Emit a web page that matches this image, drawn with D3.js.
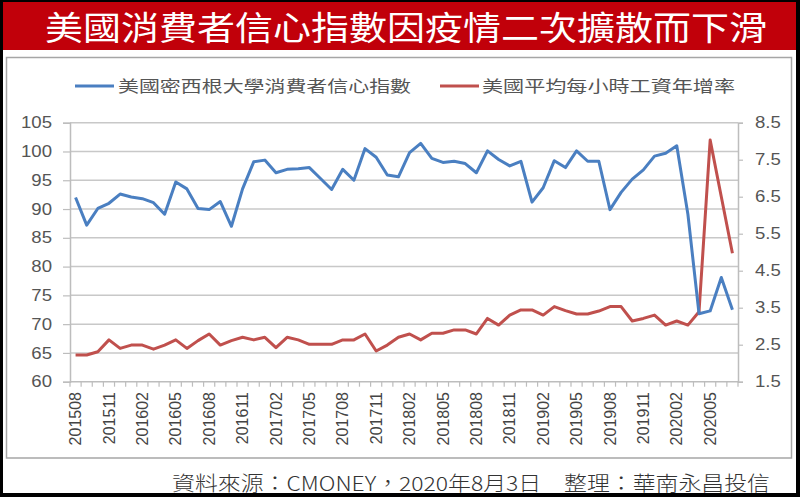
<!DOCTYPE html>
<html><head><meta charset="utf-8">
<script src="https://cdn.jsdelivr.net/npm/d3@7"></script>
<style>
html,body{margin:0;padding:0;background:#fff;}
svg{display:block;}
</style></head>
<body>
<svg id="chart" width="800" height="497"></svg>
<script>
const titleText = "美國消費者信心指數因疫情二次擴散而下滑";
const footerText = "資料來源：CMONEY，2020年8月3日　整理：華南永昌投信";
const seriesNames = ["美國密西根大學消費者信心指數", "美國平均每小時工資年增率"];
const months = [
 "201508","201509","201510","201511","201512",
 "201601","201602","201603","201604","201605","201606","201607","201608","201609","201610","201611","201612",
 "201701","201702","201703","201704","201705","201706","201707","201708","201709","201710","201711","201712",
 "201801","201802","201803","201804","201805","201806","201807","201808","201809","201810","201811","201812",
 "201901","201902","201903","201904","201905","201906","201907","201908","201909","201910","201911","201912",
 "202001","202002","202003","202004","202005","202006","202007"];
const xLabels = ["201508","201511","201602","201605","201608","201611","201702","201705","201708","201711",
 "201802","201805","201808","201811","201902","201905","201908","201911","202002","202005"];
const sentiment = [92.0,87.2,90.1,91.0,92.6,92.1,91.8,91.1,89.1,94.7,93.5,90.1,89.9,91.3,87.0,93.5,98.2,
 98.5,96.3,96.9,97.0,97.2,95.3,93.4,96.9,95.0,100.5,99.0,95.9,95.6,99.8,101.4,98.8,98.1,98.3,97.9,96.3,
 100.1,98.6,97.5,98.3,91.2,93.7,98.4,97.2,100.1,98.3,98.3,89.9,92.9,95.2,96.8,99.2,99.7,101.0,89.1,71.8,72.3,78.1,72.5];
const wageGrowth = [2.22,2.22,2.31,2.63,2.40,2.49,2.49,2.38,2.49,2.63,2.40,2.61,2.79,2.49,2.61,2.70,2.63,
 2.70,2.42,2.70,2.63,2.51,2.51,2.51,2.63,2.63,2.79,2.33,2.49,2.70,2.79,2.63,2.81,2.81,2.90,2.90,2.79,
 3.21,3.03,3.30,3.44,3.44,3.30,3.53,3.42,3.33,3.33,3.41,3.53,3.53,3.14,3.21,3.30,3.03,3.14,3.03,3.39,8.03,6.50,4.97];
const leftTicks = [60,65,70,75,80,85,90,95,100,105];
const rightTicks = [1.5,2.5,3.5,4.5,5.5,6.5,7.5,8.5];
const colors = ["#4a7fc1","#c0504d"];

const svg = d3.select("#chart");
const cjk = "'Noto Sans CJK TC','Noto Sans CJK SC',sans-serif";
const num = "'Liberation Sans',Arial,sans-serif";

// frame
svg.append("rect").attr("width",800).attr("height",497).attr("fill","#000");
svg.append("rect").attr("x",3).attr("y",2).attr("width",793).attr("height",491).attr("fill","#fff");
svg.append("rect").attr("x",3).attr("y",2).attr("width",793).attr("height",48).attr("fill","#c1000a");
svg.append("rect").attr("x",6.5).attr("y",57.5).attr("width",785).attr("height",400.5)
  .attr("fill","#fff").attr("stroke","#a6a6a6").attr("stroke-width",1.5);

// title
svg.append("text").attr("x",45).attr("y",40).attr("fill","#fff")
  .style("font-family",cjk).style("font-size","33px").style("font-weight",400)
  .attr("textLength",722).attr("lengthAdjust","spacingAndGlyphs").text(titleText);

// footer
svg.append("text").attr("x",172).attr("y",491).attr("fill","#333")
  .style("font-family",cjk).style("font-size","20px").style("font-weight",300)
  .attr("textLength",598).attr("lengthAdjust","spacingAndGlyphs").text(footerText);

// scales
const plotL = 70, plotR = 738, plotT = 122.7, plotB = 381.7;
const x = d3.scaleBand().domain(months).range([plotL, plotR]);
const bw = x.bandwidth();
const yL = d3.scaleLinear().domain([60,105]).range([plotB, plotT]);
const yR = d3.scaleLinear().domain([1.5,8.5]).range([plotB, plotT]);

// gridlines
svg.append("g").selectAll("line").data(leftTicks.filter(d=>d>60)).join("line")
  .attr("x1",plotL).attr("x2",plotR).attr("y1",d=>yL(d)).attr("y2",d=>yL(d))
  .attr("stroke","#c8c8c8").attr("stroke-width",1.5);

// left axis
const gL = svg.append("g").attr("transform",`translate(${plotL},0)`)
  .call(d3.axisLeft(yL).tickValues(leftTicks).tickSize(7).tickPadding(11));
// right axis
const gR = svg.append("g").attr("transform",`translate(${plotR},0)`)
  .call(d3.axisRight(yR).tickValues(rightTicks).tickFormat(d3.format(".1f")).tickSize(5).tickPadding(12));
[gL,gR].forEach(g=>{
  g.select(".domain").attr("stroke","#bdbdbd").attr("stroke-width",1.5);
  g.selectAll(".tick line").attr("stroke","#bdbdbd").attr("stroke-width",1.2);
  g.selectAll(".tick text").attr("fill","#555").style("font-family",num).style("font-size","16px");
});
[gL,gR].forEach(g=>g.selectAll(".tick text").each(function(){
  const w=this.getComputedTextLength();
  d3.select(this).attr("textLength",w*1.16).attr("lengthAdjust","spacingAndGlyphs");
}));

// bottom axis
const gB = svg.append("g");
gB.append("line").attr("x1",plotL).attr("x2",plotR).attr("y1",plotB).attr("y2",plotB)
  .attr("stroke","#bdbdbd").attr("stroke-width",1.5);
gB.selectAll("line.tk").data(months.concat(["end"])).join("line").attr("class","tk")
  .attr("x1",d=>d==="end"?plotR:x(d)).attr("x2",d=>d==="end"?plotR:x(d))
  .attr("y1",plotB).attr("y2",plotB+5).attr("stroke","#bdbdbd").attr("stroke-width",1.2);
gB.selectAll("text").data(xLabels).join("text")
  .attr("transform",d=>`translate(${x(d)+bw/2},392) rotate(-90)`)
  .attr("text-anchor","end").attr("dy","0.35em").attr("fill","#444")
  .style("font-family",num).style("font-size","16px").text(d=>d);

// lines
const lineL = d3.line().x((d,i)=>x(months[i])+bw/2).y(d=>yL(d));
const lineR = d3.line().x((d,i)=>x(months[i])+bw/2).y(d=>yR(d));
svg.append("path").attr("d",lineR(wageGrowth)).attr("fill","none").attr("stroke",colors[1])
  .attr("stroke-width",3).attr("stroke-linejoin","round");
svg.append("path").attr("d",lineL(sentiment)).attr("fill","none").attr("stroke",colors[0])
  .attr("stroke-width",3).attr("stroke-linejoin","round");

// legend
const legend = [
  {name:seriesNames[0], color:colors[0], x1:75, x2:114, tx:118, tl:293},
  {name:seriesNames[1], color:colors[1], x1:440, x2:479, tx:482, tl:253}
];
const lg = svg.append("g").selectAll("g").data(legend).join("g");
lg.append("line").attr("x1",d=>d.x1).attr("x2",d=>d.x2).attr("y1",86).attr("y2",86)
  .attr("stroke",d=>d.color).attr("stroke-width",3);
lg.append("text").attr("x",d=>d.tx).attr("y",92).attr("fill","#555")
  .style("font-family",cjk).style("font-size","16px")
  .attr("textLength",d=>d.tl).attr("lengthAdjust","spacingAndGlyphs").text(d=>d.name);
</script>
</body></html>
